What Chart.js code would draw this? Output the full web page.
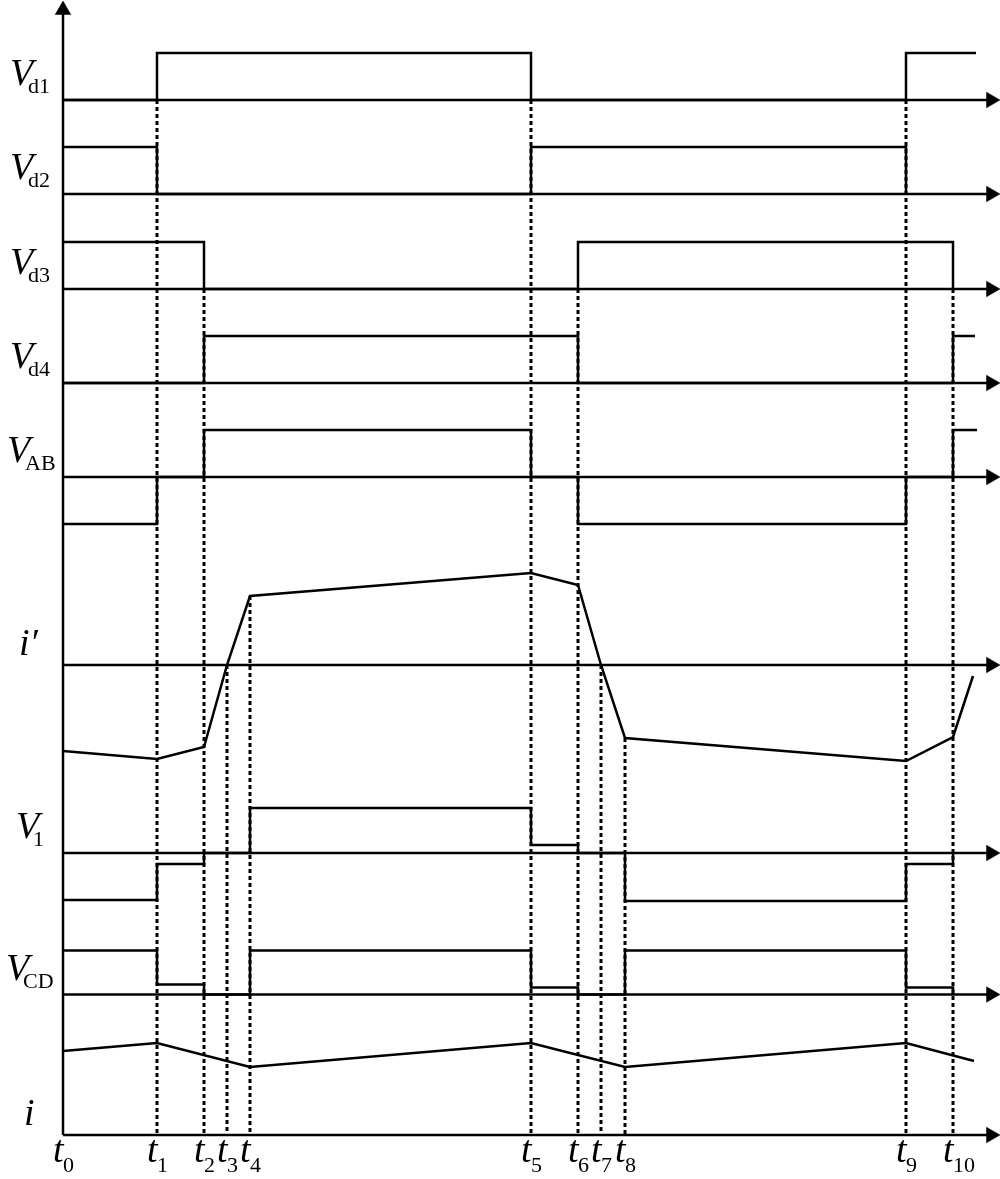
<!DOCTYPE html>
<html>
<head>
<meta charset="utf-8">
<script src="https://cdn.jsdelivr.net/npm/chart.js@4.4.1/dist/chart.umd.min.js"></script>
<style>
  html, body { margin: 0; padding: 0; background: #fff; }
  #wrap { width: 1000px; height: 1179px; position: relative; }
</style>
</head>
<body>
<div id="wrap"><canvas id="waveChart"></canvas></div>
<script>
// switching instants t0..t10, measured from t0
const tickLabels = ['0', '1', '2', '3', '4', '5', '6', '7', '8', '9', '10'];
const T = [0, 94, 141, 164, 187, 468, 515, 538, 562, 843, 890];
const axisEnd = 937;

// gate drive signals (high = 47, low = 0)
const vd1Times = [T[0], T[1], T[5], T[9], 913];
const vd1Levels = [0, 47, 0, 47, 47];
const vd2Times = [T[0], T[1], T[5], T[9]];
const vd2Levels = [47, 0, 47, 0];
const vd3Times = [T[0], T[2], T[6], T[10]];
const vd3Levels = [47, 0, 47, 0];
const vd4Times = [T[0], T[2], T[6], T[10], 912];
const vd4Levels = [0, 47, 0, 47, 47];

// bridge voltage
const vabTimes = [T[0], T[1], T[2], T[5], T[6], T[9], T[10], 914];
const vabLevels = [-47, 0, 47, 0, -47, 0, 47, 47];

// reflected current i'
const ipTimes = [T[0], T[1], T[2], T[3], T[4], T[5], T[6], T[7], T[8], T[9], T[10], 910];
const ipLevels = [-86, -94, -82, 0, 69, 92, 80, 0, -73, -96, -72, -11];

// V1 and VCD
const v1Times = [T[0], T[1], T[2], T[4], T[5], T[6], T[8], T[9], T[10]];
const v1Levels = [-47, -11, 0, 45, 8, 0, -48, -11, 0];
const vcdTimes = [T[0], T[1], T[2], T[4], T[5], T[6], T[8], T[9], T[10]];
const vcdLevels = [44, 10, 0, 44, 7, 0, 44, 7, 0];

// output current i
const iTimes = [T[0], T[1], T[4], T[5], T[8], T[9], 911];
const iLevels = [84, 92, 68, 92, 68, 92, 74];

// baseline of each trace (layout, measured up from the time axis)
const rowBase = { vd1: 1035, vd2: 941, vd3: 846, vd4: 752, vab: 658, ip: 470, v1: 282, vcd: 140.5, i: 0 };

function pts(times, levels, base) {
  return times.map((t, k) => ({ x: t, y: base + levels[k] }));
}

const datasets = [];

// dashed markers: where each one starts
const markerTop = [
  null, rowBase.vd1, rowBase.vd3, rowBase.ip, rowBase.ip + ipLevels[4],
  rowBase.vd1, rowBase.vd3, rowBase.ip, rowBase.ip + ipLevels[8],
  rowBase.vd1, rowBase.vd3
];
for (let k = 1; k < T.length; k++) {
  datasets.push({
    data: [{ x: T[k], y: markerTop[k] }, { x: T[k], y: 0 }],
    borderColor: '#000', borderWidth: 3, borderDash: [4, 3],
    pointRadius: 0, borderCapStyle: 'butt'
  });
}

// baselines with arrow heads
Object.keys(rowBase).forEach(key => {
  datasets.push({
    data: [{ x: 0, y: rowBase[key] }, { x: axisEnd - 9, y: rowBase[key] }],
    borderColor: '#000', borderWidth: 2.5,
    pointRadius: [0, 9], pointStyle: 'triangle', pointRotation: 90,
    pointBackgroundColor: '#000', pointBorderColor: '#000', pointBorderWidth: 0.5
  });
});

// vertical axis
datasets.push({
  data: [{ x: 0, y: 0 }, { x: 0, y: 1125 }],
  borderColor: '#000', borderWidth: 2.5,
  pointRadius: [0, 9], pointStyle: 'triangle', pointRotation: 0,
  pointBackgroundColor: '#000', pointBorderColor: '#000', pointBorderWidth: 0.5
});

function wave(times, levels, base, stepped) {
  datasets.push({
    data: pts(times, levels, base),
    borderColor: '#000', borderWidth: 2.5, stepped: stepped, tension: 0,
    pointRadius: 0, borderJoinStyle: 'miter', borderCapStyle: 'butt'
  });
}
wave(vd1Times, vd1Levels, rowBase.vd1, true);
wave(vd2Times, vd2Levels, rowBase.vd2, true);
wave(vd3Times, vd3Levels, rowBase.vd3, true);
wave(vd4Times, vd4Levels, rowBase.vd4, true);
wave(vabTimes, vabLevels, rowBase.vab, true);
wave(ipTimes, ipLevels, rowBase.ip, false);
wave(v1Times, v1Levels, rowBase.v1, true);
wave(vcdTimes, vcdLevels, rowBase.vcd, true);
wave(iTimes, iLevels, rowBase.i, false);

// trace names: main letter (italic) + subscript, offsets from the axis
const rowLabels = [
  { row: 'vd1', main: 'V', sub: 'd1', mx: 53, sx: 35 },
  { row: 'vd2', main: 'V', sub: 'd2', mx: 53, sx: 35 },
  { row: 'vd3', main: 'V', sub: 'd3', mx: 53, sx: 35 },
  { row: 'vd4', main: 'V', sub: 'd4', mx: 53, sx: 35 },
  { row: 'vab', main: 'V', sub: 'AB', mx: 56, sx: 38 },
  { row: 'ip', main: 'i\u2032', sub: '', mx: 44, sx: 0 },
  { row: 'v1', main: 'V', sub: '1', mx: 47, sx: 30 },
  { row: 'vcd', main: 'V', sub: 'CD', mx: 57, sx: 40 },
  { row: 'i', main: 'i', sub: '', mx: 39, sx: 0 }
];

const labelPlugin = {
  id: 'waveLabels',
  afterDatasetsDraw(chart) {
    const { ctx, scales: { x, y } } = chart;
    const x0 = x.getPixelForValue(0);
    ctx.save();
    ctx.fillStyle = '#000';
    ctx.textBaseline = 'alphabetic';
    ctx.textAlign = 'left';
    rowLabels.forEach(l => {
      const by = y.getPixelForValue(rowBase[l.row]);
      const isI = l.main.startsWith('i');
      ctx.font = 'italic 38px "Liberation Serif"';
      ctx.fillText(l.main, x0 - l.mx, by - (isI ? 10 : 15));
      if (l.sub) {
        ctx.font = '22px "Liberation Serif"';
        ctx.fillText(l.sub, x0 - l.sx, by - 7);
      }
    });
    const ay = y.getPixelForValue(0);
    T.forEach((t, k) => {
      const px = x.getPixelForValue(t);
      ctx.font = 'italic 38px "Liberation Serif"';
      ctx.fillText('t', px - 10, ay + 27);
      ctx.font = '22px "Liberation Serif"';
      ctx.fillText(tickLabels[k], px, ay + 37);
    });
    ctx.restore();
  }
};

new Chart(document.getElementById('waveChart').getContext('2d'), {
  type: 'line',
  data: { datasets: datasets },
  options: {
    animation: false,
    responsive: true,
    maintainAspectRatio: false,
    layout: { autoPadding: false, padding: 0 },
    events: [],
    plugins: { legend: { display: false }, tooltip: { enabled: false } },
    scales: {
      x: { type: 'linear', display: false, min: -63, max: axisEnd },
      y: { type: 'linear', display: false, min: -44, max: 1135 }
    }
  },
  plugins: [labelPlugin]
});
</script>
</body>
</html>
